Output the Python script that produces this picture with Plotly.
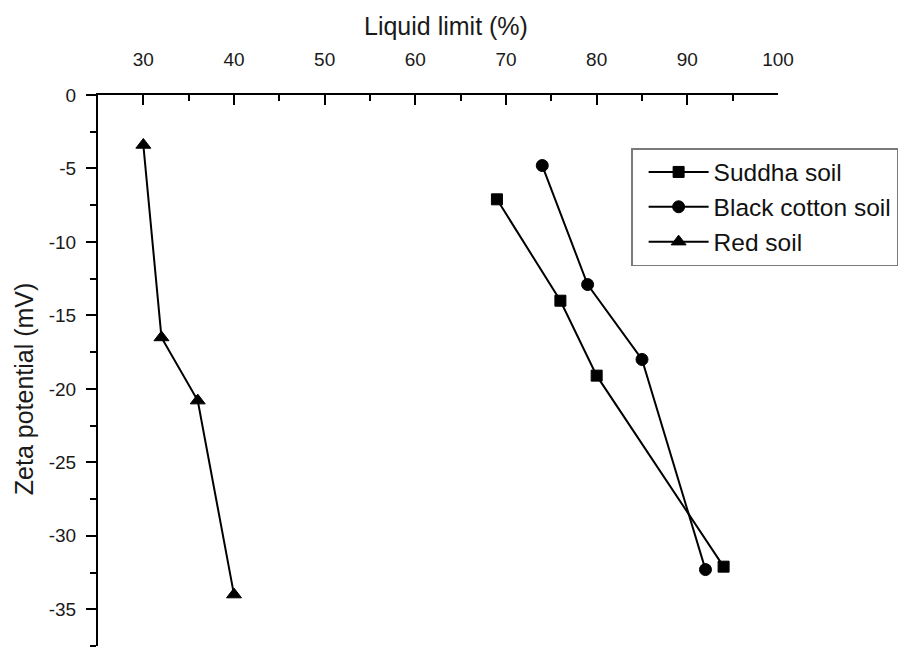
import plotly.graph_objects as go

# Liquid limit (%) and zeta potential (mV) for each soil
suddha_ll = [69, 76, 80, 94]
suddha_zeta = [-7.1, -14.0, -19.1, -32.1]

black_cotton_ll = [74, 79, 85, 92]
black_cotton_zeta = [-4.8, -12.9, -18.0, -32.3]

red_ll = [30, 32, 36, 40]
red_zeta = [-3.4, -16.5, -20.8, -34.0]

series_names = ["Suddha soil", "Black cotton soil", "Red soil"]
x_ticks = [30, 40, 50, 60, 70, 80, 90, 100]
y_ticks = [0, -5, -10, -15, -20, -25, -30, -35]

FONT = "Arial, Liberation Sans, sans-serif"
INK = "#000000"
TEXT = "#1a1a1a"

fig = go.Figure()

for name, xs, ys, symbol, size in [
    (series_names[0], suddha_ll, suddha_zeta, "square", 11),
    (series_names[1], black_cotton_ll, black_cotton_zeta, "circle", 12),
    (series_names[2], red_ll, red_zeta, "triangle-up", 13),
]:
    fig.add_trace(go.Scatter(
        x=xs, y=ys, name=name, mode="lines+markers",
        line=dict(color=INK, width=2),
        marker=dict(symbol=symbol, size=size, color=INK,
                    line=dict(color=INK, width=1)),
    ))

fig.update_layout(
    width=902, height=650,
    margin=dict(l=98, r=122, t=95, b=4),
    paper_bgcolor="white", plot_bgcolor="white",
    font=dict(family=FONT, color=TEXT),
    showlegend=True,
    legend=dict(
        x=0.784, y=0.9038, xanchor="left", yanchor="top",
        bordercolor="#7a7a7a", borderwidth=1.5, bgcolor="white",
        font=dict(size=24.5, family=FONT, color="#111111"),
        itemwidth=60, indentation=11, tracegroupgap=0,
    ),
    xaxis=dict(
        side="top", range=[25, 100], tickmode="array", tickvals=x_ticks,
        ticktext=[str(v) for v in x_ticks],
        ticks="inside", ticklen=10, tickwidth=2, tickcolor=INK,
        minor=dict(dtick=5, tick0=0, ticks="inside", ticklen=6,
                   tickwidth=2, tickcolor=INK),
        showline=True, linewidth=2, linecolor=INK,
        showgrid=False, zeroline=False,
        tickfont=dict(size=19, family=FONT, color=TEXT),
        ticklabelstandoff=19,
    ),
    yaxis=dict(
        range=[-37.5, 0], tickmode="array", tickvals=y_ticks,
        ticktext=[str(v) for v in y_ticks],
        ticks="outside", ticklen=10, tickwidth=2, tickcolor=INK,
        minor=dict(dtick=2.5, tick0=0, ticks="outside", ticklen=6,
                   tickwidth=2, tickcolor=INK),
        showline=True, linewidth=2, linecolor=INK,
        showgrid=False, zeroline=False,
        tickfont=dict(size=19, family=FONT, color=TEXT),
        ticklabelstandoff=6,
    ),
    annotations=[
        dict(text="Liquid limit (%)", xref="paper", yref="paper",
             x=0.5117, y=1.125, xanchor="center", yanchor="middle",
             showarrow=False, font=dict(size=25, family=FONT, color=TEXT)),
        dict(text="Zeta potential (mV)", xref="paper", yref="paper",
             x=-0.1085, y=0.4664, xanchor="center", yanchor="middle",
             textangle=-90, showarrow=False,
             font=dict(size=25, family=FONT, color=TEXT)),
    ],
)

fig.write_html("out.html")
